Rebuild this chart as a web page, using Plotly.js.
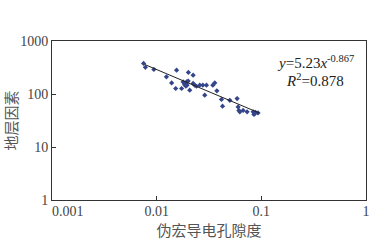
<!DOCTYPE html>
<html><head><meta charset="utf-8">
<script src="https://cdn.plot.ly/plotly-3.0.1.min.js"></script>
<style>html,body{margin:0;padding:0;background:#fff;}#c{width:391px;height:240px;}</style>
</head><body><div id="c"></div>
<script>
// Scatter data: pseudo-macro conductive porosity vs formation factor
const porosity = [0.0075, 0.0078, 0.0094, 0.0124, 0.0139, 0.0155, 0.0152, 0.0173, 0.0179, 0.0186, 0.0193, 0.0195, 0.0200, 0.0190, 0.0201, 0.0223, 0.0207, 0.0223, 0.0231, 0.0258, 0.0276, 0.0299, 0.0288, 0.0344, 0.0359, 0.0376, 0.0416, 0.0426, 0.0500, 0.0587, 0.0600, 0.0610, 0.0623, 0.0670, 0.0731, 0.0835, 0.0867, 0.0930, 0.0185, 0.0240, 0.0850, 0.0880];
const formationFactor = [378, 318, 291, 211, 162, 282, 127, 127, 169, 158, 169, 147, 175, 141, 255, 227, 118, 158, 147, 147, 147, 147, 95, 147, 162, 115, 79, 59, 76, 82, 57, 49, 46, 49, 46, 46, 43, 44, 150, 140, 41, 45];
// Fit line endpoints
const fitX = [0.0077, 0.095];
const fitY = [360, 44];
// Tick labels (the first x label is drawn offset to the right, as in the original)
const xTickVals = [0.001, 0.01, 0.1, 1];
const xTickText = ["0.001", "0.01", "0.1", "1"];
const yTickVals = [1, 10, 100, 1000];
const yTickText = ["1", "10", "100", "1000"];
const xTitle = "伪宏导电孔隙度";
const yTitle = "地层因素";
const eqText = "<i>y</i>=5.23<i>x</i><sup>-0.867</sup>";
const r2Text = "<i>R</i><sup>2</sup>=0.878";

const serif = "Liberation Serif, Times New Roman, serif";
const cjk = "Noto Sans CJK SC, sans-serif";

const traces = [
  {x: porosity, y: formationFactor, type: "scatter", mode: "markers",
   marker: {symbol: "diamond", size: 4, color: "#34458a"}, showlegend: false, hoverinfo: "skip"},
  {x: fitX, y: fitY, type: "scatter", mode: "lines",
   line: {color: "#222", width: 1}, showlegend: false, hoverinfo: "skip"}
];

const axisCommon = {
  showline: true, mirror: true, linecolor: "#333", linewidth: 1,
  ticks: "inside", ticklen: 4, tickcolor: "#333", showgrid: false, zeroline: false,
  tickfont: {family: serif, size: 14, color: "#444"}
};

const xShown = xTickText.map((t, i) => i === 0 ? "" : t);

const layout = {
  width: 391, height: 240,
  margin: {l: 52, r: 25, t: 41, b: 40},
  paper_bgcolor: "#fff", plot_bgcolor: "#fff",
  xaxis: Object.assign({}, axisCommon, {
    type: "log", range: [-3, 0], tickvals: xTickVals, ticktext: xShown,
    ticklabelstandoff: -2,
    title: {text: xTitle, font: {family: cjk, size: 15, color: "#555"}, standoff: 0}
  }),
  yaxis: Object.assign({}, axisCommon, {
    type: "log", range: [0, 3], tickvals: yTickVals, ticktext: yTickText,
    ticklabelstandoff: 0,
    title: {text: yTitle, font: {family: cjk, size: 15, color: "#555"}, standoff: 0}
  }),
  annotations: [
    {xref: "x", yref: "paper", x: Math.log10(xTickVals[0]), y: 0, text: xTickText[0], showarrow: false,
     font: {family: serif, size: 14, color: "#444"}, xanchor: "left", yanchor: "top", xshift: -2, yshift: -2},
    {xref: "paper", yref: "paper", x: 0.84, y: 0.869, text: eqText, showarrow: false,
     font: {family: serif, size: 15, color: "#222"}, xanchor: "center", yanchor: "middle"},
    {xref: "paper", yref: "paper", x: 0.837, y: 0.754, text: r2Text, showarrow: false,
     font: {family: serif, size: 15, color: "#222"}, xanchor: "center", yanchor: "middle"}
  ]
};

Plotly.newPlot("c", traces, layout, {staticPlot: true, displayModeBar: false});
</script></body></html>
